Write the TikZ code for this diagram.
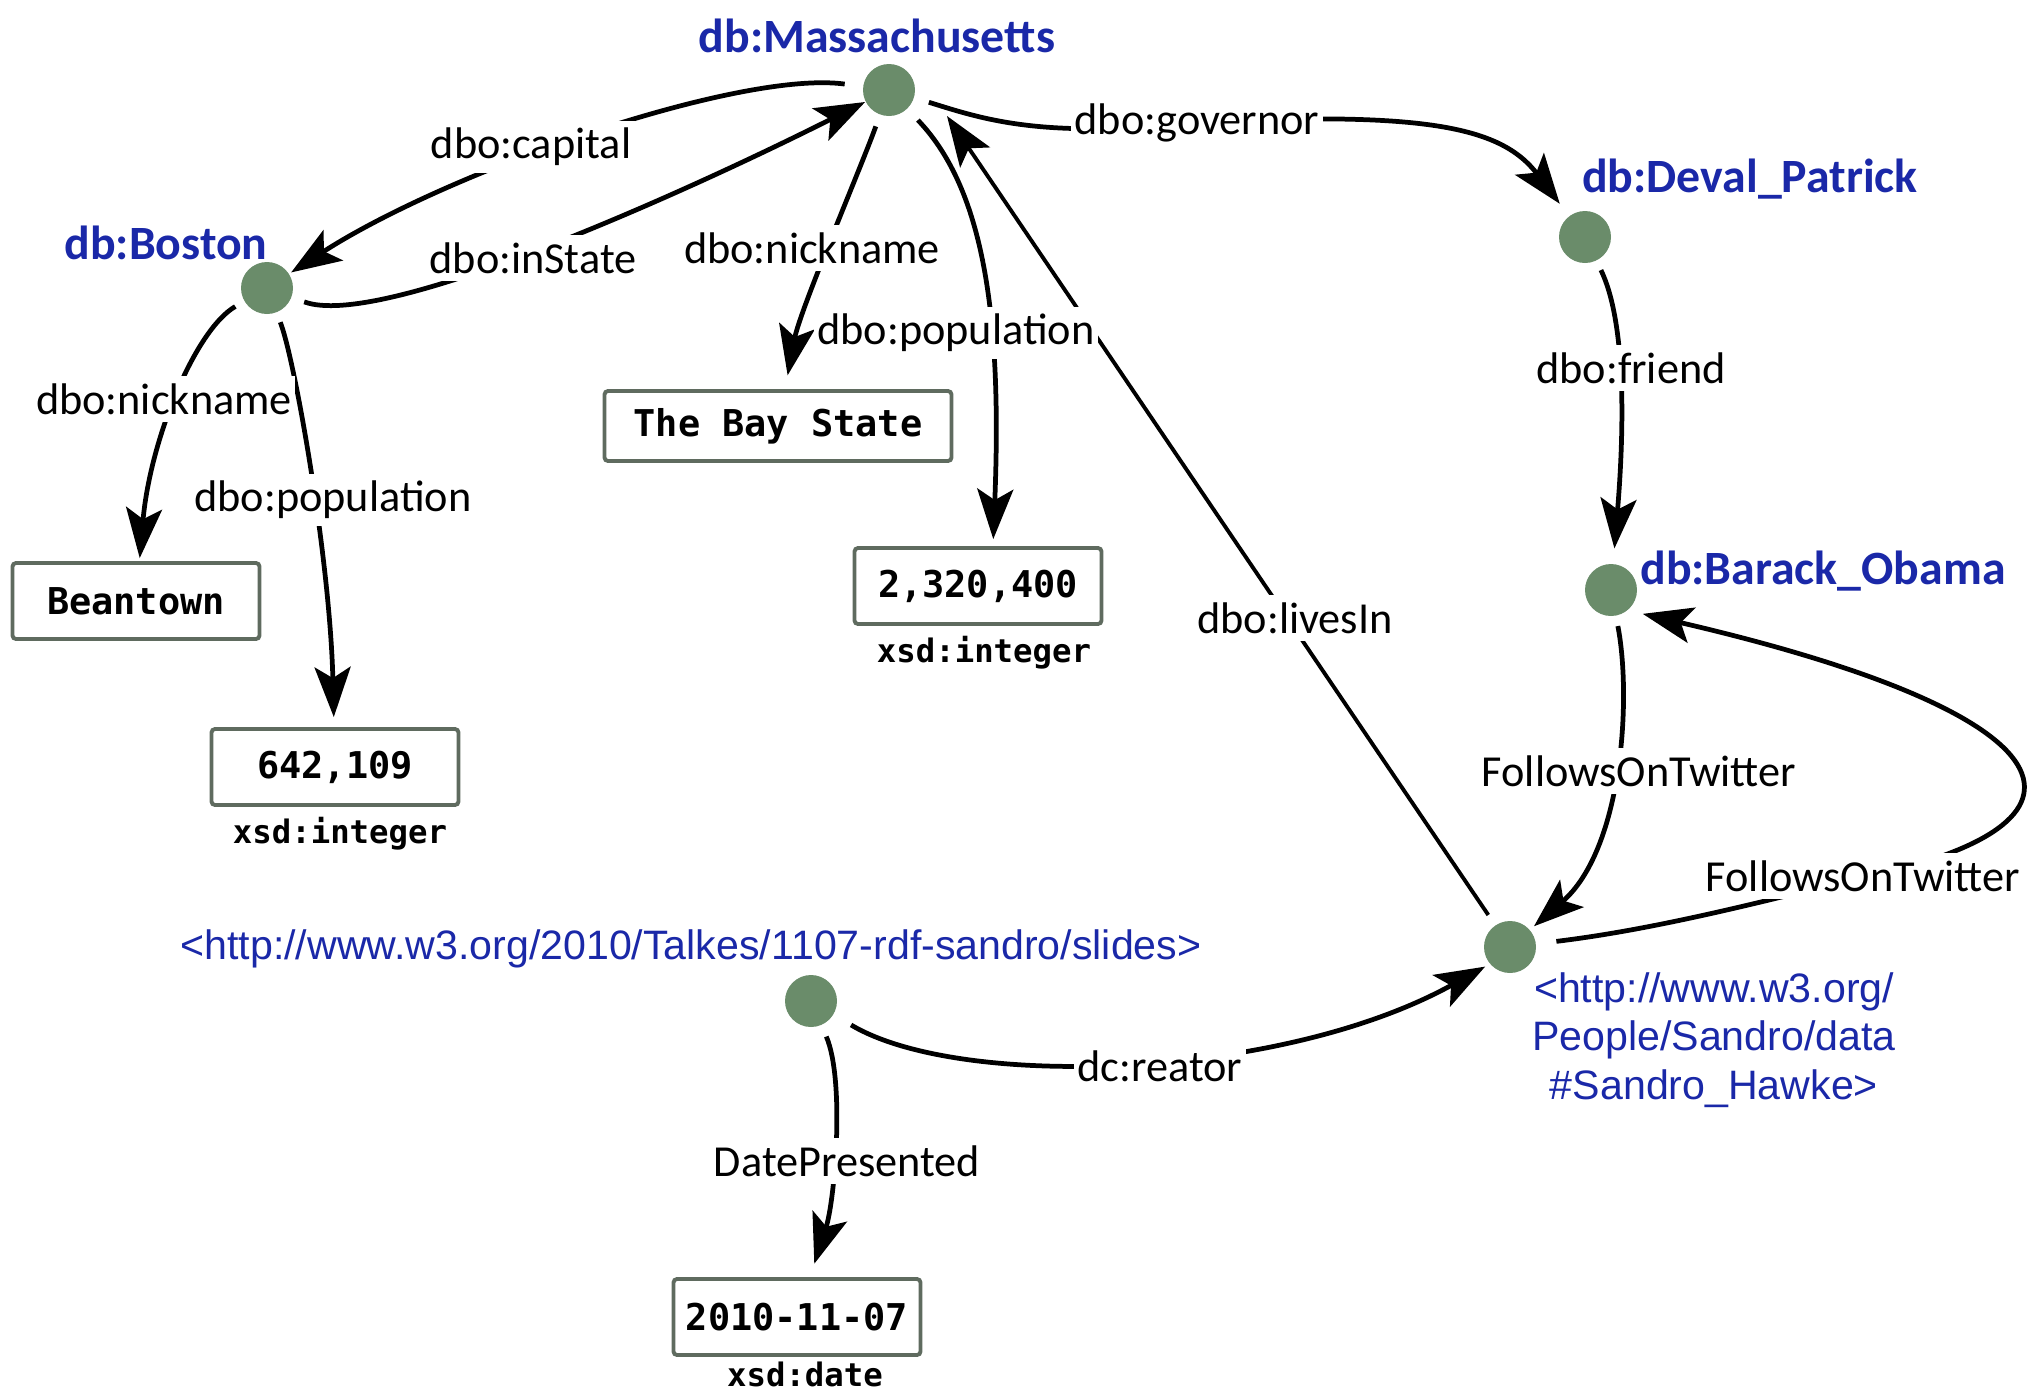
\documentclass[tikz,border=0pt]{standalone}
\usepackage{fontspec}
\setmonofont{DejaVu Sans Mono}
\newfontfamily\handfont{Carlito}
\newfontfamily\urlfont{Liberation Sans}
\usepackage{tikz}
\usetikzlibrary{positioning}
\usetikzlibrary{arrows.meta}

\definecolor{nodegreen}{HTML}{6A8C6A}
\definecolor{boxgray}{HTML}{5F6B5F}
\definecolor{uriblue}{HTML}{1A28A8}

\tikzset{
	res/.style={circle, fill=nodegreen, minimum size=0.52cm, inner sep=0pt},
	resname/.style={text=uriblue, inner sep=1pt, font=\handfont\bfseries\fontsize{13.6}{16}\selectfont},
	urilabel/.style={text=uriblue, inner sep=1pt, align=center, font=\urlfont\fontsize{11.7}{13.8}\selectfont},
	lit/.style={draw=boxgray, line width=1.1pt, rounded corners=1pt, fill=white, minimum width=2.47cm, minimum height=0.76cm, inner xsep=0.12cm, font=\ttfamily\bfseries\fontsize{10.5}{12}\selectfont},
	dtype/.style={inner sep=0.5pt, font=\ttfamily\bfseries\fontsize{9.2}{11}\selectfont},
	rel/.style={fill=white, inner xsep=1pt, inner ysep=2pt, font=\handfont\fontsize{12.6}{14}\selectfont},
	edge/.style={black, line width=1.35pt, -{Stealth[length=5mm, width=3.6mm, inset=1.1mm]}},
}

\begin{document}
\begin{tikzpicture}
	\useasboundingbox (0,0) rectangle (20.31,-13.96);

	% resources
	\node[res] (mass) at (8.89,-0.90) {};
	\node[res] (boston) at (2.67,-2.88) {};
	\node[res] (deval) at (15.85,-2.37) {};
	\node[res] (obama) at (16.11,-5.90) {};
	\node[res] (sandro) at (15.10,-9.47) {};
	\node[res] (slides) at (8.11,-10.01) {};

	\node[resname] (massname) at (8.77,-0.36) {db:Massachusetts};
	\node[resname] (bostonname) at (1.66,-2.43) {db:Boston};
	\node[resname] (devalname) at (17.50,-1.79) {db:Deval\_Patrick};
	\node[resname] (obamaname) at (18.23,-5.71) {db:Barack\_Obama};
	\node[urilabel] (slidesname) at (6.91,-9.49) {<http://www.w3.org/2010/Talkes/1107-rdf-sandro/slides>};
	\node[urilabel] (sandroname) at (17.14,-10.40) {<http://www.w3.org/\\People/Sandro/data\\\#Sandro\_Hawke>};

	% literals
	\node[lit, minimum width=3.47cm, minimum height=0.70cm] (baystate) at (7.78,-4.26) {The Bay State};
	\node[lit] (beantown) at (1.36,-6.01) {Beantown};
	\node[lit] (popmass) at (9.78,-5.86) {2,320,400};
	\node[lit] (popboston) at (3.35,-7.67) {642,109};
	\node[lit] (datebox) at (7.97,-13.17) {2010-11-07};

	\node[dtype, below=0.08cm of popmass, xshift=0.06cm] (popmasstype) {xsd:integer};
	\node[dtype, below=0.08cm of popboston, xshift=0.05cm] (popbostontype) {xsd:integer};
	\node[dtype, below=0.03cm of datebox, xshift=0.08cm] (datetype) {xsd:date};

	\coordinate (govbend) at (11.97,-1.22);
	\coordinate (fotbend) at (18.50,-8.80);

	% properties
	\draw[edge, shorten <=0.18cm, shorten >=0.02cm] (mass) .. controls (7.40,-0.70) and (4.50,-1.70) .. (boston);
	\draw[edge, shorten <=0.13cm] (boston) .. controls (3.80,-3.30) and (6.80,-1.95) .. (mass);
	\draw[edge, shorten <=0.12cm, shorten >=0.14cm] (mass) .. controls (8.60,-1.70) and (8.00,-3.10) .. (baystate);
	\draw[edge, shorten <=0.15cm, shorten >=0.07cm] (mass) .. controls (9.85,-1.90) and (10.02,-3.20) .. ([xshift=0.15cm]popmass.north);
	\draw[edge, shorten <=0.15cm, shorten >=0.15cm] (mass) .. controls (9.80,-1.18) and (10.40,-1.40) .. (govbend) .. controls (14.20,-1.12) and (15.00,-1.25) .. (deval);
	\draw[edge, shorten <=0.10cm, shorten >=0.15cm] (deval) .. controls (16.25,-3.20) and (16.25,-4.20) .. (obama);
	\draw[edge, shorten <=0.10cm, shorten >=0.05cm] (obama) .. controls (16.32,-7.00) and (16.22,-8.50) .. (sandro);
	\draw[edge, shorten <=0.20cm, shorten >=0.15cm] (sandro) .. controls (16.50,-9.30) and (17.50,-9.05) .. (fotbend) .. controls (21.10,-8.30) and (21.00,-7.20) .. (obama.-50);
	\draw[edge, line width=1.1pt, shorten <=0.12cm] (sandro) -- ([shift={(0.58,-0.26)}]mass.center);
	\draw[edge, shorten <=0.20cm, shorten >=0.05cm] (slides) .. controls (9.60,-10.90) and (12.80,-10.80) .. (sandro.-140);
	\draw[edge, shorten <=0.12cm, shorten >=0.14cm] (slides) .. controls (8.45,-10.80) and (8.35,-12.00) .. (datebox);
	\draw[edge, shorten <=0.10cm, shorten >=0.03cm] (boston) .. controls (1.95,-3.30) and (1.50,-4.40) .. (beantown);
	\draw[edge, shorten <=0.10cm, shorten >=0.10cm] (boston) .. controls (2.95,-3.60) and (3.30,-5.60) .. (popboston);

	\node[rel] (lcapital) at (5.31,-1.47) {dbo:capital};
	\node[rel] (linstate) at (5.33,-2.58) {dbo:inState};
	\node[rel] (lnickmass) at (8.12,-2.48) {dbo:nickname};
	\node[rel] (lpopmass) at (9.56,-3.33) {dbo:population};
	\node[rel] (lgovernor) at (11.97,-1.23) {dbo:governor};
	\node[rel] (lfriend) at (16.31,-3.68) {dbo:friend};
	\node[rel] (llivesin) at (12.95,-6.18) {dbo:livesIn};
	\node[rel] (lfollows) at (16.39,-7.71) {FollowsOnTwitter};
	\node[rel] (lfollowsback) at (18.63,-8.76) {FollowsOnTwitter};
	\node[rel] (lcreator) at (11.60,-10.66) {dc:reator};
	\node[rel] (ldate) at (8.47,-11.61) {DatePresented};
	\node[rel] (lnickboston) at (1.64,-3.99) {dbo:nickname};
	\node[rel] (lpopboston) at (3.33,-5.00) {dbo:population};
\end{tikzpicture}
\end{document}
